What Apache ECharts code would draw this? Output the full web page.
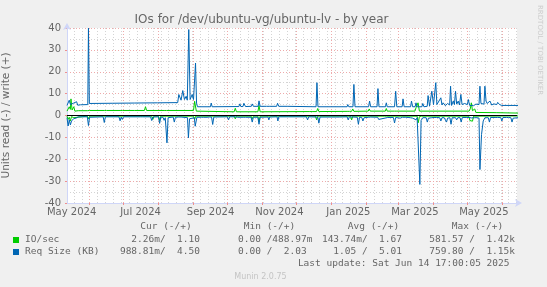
<!DOCTYPE html>
<html><head><meta charset="utf-8">
<script src="https://cdn.jsdelivr.net/npm/echarts@6/dist/echarts.min.js"></script>
<style>html,body{margin:0;padding:0;background:#f0f0f0}#c{width:547px;height:287px}</style>
</head><body><div id="c"></div>
<script>
// ---- time range (rrdtool year graph, ~400 days) ----
const START = Date.UTC(2024, 4, 11, 22);
const END = Date.UTC(2025, 5, 14, 8);
const DAY = 86400000;

// month grid lines (major) and labelled months
const monthStarts = ['2024-06-01','2024-07-01','2024-08-01','2024-09-01','2024-10-01','2024-11-01','2024-12-01',
  '2025-01-01','2025-02-01','2025-03-01','2025-04-01','2025-05-01','2025-06-01'];
const labelMonths = ['2024-05','2024-07','2024-09','2024-11','2025-01','2025-03','2025-05'];
const monthNames = ['Jan','Feb','Mar','Apr','May','Jun','Jul','Aug','Sep','Oct','Nov','Dec'];
const firstWeekLine = '2024-05-18';
const yTicks = [-40, 40, 10];

// ---- series: [day offset from START, value] ----
const ioWrite = [[0,2.0],[1,2.5],[2,4.0],[3,2.8],[3.5,7.6],[4.5,2.5],[5.5,2.2],[6,4.0],[7,2.0],[10,2.2],
  [18,2.2],[19,3.0],[20,2.3],[33,2.3],[34,3.2],[35,2.3],[47,2.3],[48,3.0],[49,2.3],[60,2.3],[61,3.0],[62,2.3],
  [68.5,2.3],[69.5,4.0],[70.5,2.3],[86,2.3],[87,3.0],[88,2.3],[112,2.3],[113,6.5],[114.5,2.0],[115.5,1.7],
  [148,1.7],[149,3.3],[150,1.7],[169,1.7],[170,4.6],[171,1.7],[215,1.8],[216,2.7],[217,1.8],
  [221,1.8],[222,3.2],[223,1.8],[248,1.9],[249,2.7],[250,1.9],[252,1.9],[253,3.0],[254,1.9],
  [266.7,2.0],[267.6,3.0],[268.5,2.0],[281.8,2.0],[282.7,3.2],[283.5,2.0],[290,2.0],[291,2.9],[292,2.0],
  [308,2.0],[309,3.5],[310.8,5.8],[312,2.0],[356,2.0],[357,3.0],[358,5.8],[359,2.2],[361,3.0],[362,1.4],
  [380,1.3],[400,1.1]];
const ioRead = [[0,-0.3],[1,-1.8],[2,-0.8],[3,-2.5],[4,-0.5],[6,-1.0],[7,-0.3],[18,-0.3],[19,-1.5],[20,-0.3],
  [32,-0.3],[33,-0.9],[34,-0.3],[75,-0.3],[76,-1.8],[77,-0.3],[81,-0.3],[82,-2.3],[83,-0.3],
  [112,-0.3],[113,-1.8],[114,-0.3],[148,-0.3],[149,-1.5],[150,-0.3],[163,-0.3],[164,-1.5],[165,-0.3],
  [169,-0.3],[170,-2.9],[171,-0.3],[220,-0.3],[221,-2.0],[222,-0.3],[251,-0.3],[252,-2.0],[253,-0.3],
  [266,-0.3],[267,-1.2],[268,-0.3],[281,-0.3],[282,-1.0],[283,-0.3],[310,-0.3],[311,-3.3],[312,-0.5],
  [313,-1.2],[314,-0.3],[355.7,-0.3],[356.7,-2.3],[358,-1.5],[359,-2.6],[360,-0.3],[400,-0.2]];
const reqWrite = [[0,4.6],[1,5.2],[2,7.0],[3,5.0],[4.5,5.4],[6,5.7],[7,4.9],[8.5,6.3],[9.5,4.7],[12,4.9],[18.4,5.0],[19,40],
  [19.8,5.5],[40,5.6],[60,5.7],[80,5.8],[98,5.9],[99,9.6],[101,7],[102.5,11.4],[104,7.3],[105.5,8.8],[106.5,7],[107.8,39.3],
  [109,7.3],[110.8,9.6],[112,7.3],[113.8,24],[114.7,5.7],[115.5,4.0],[127,4.0],[127.7,5.7],[128.5,4.0],[152.2,4.1],[153,5.3],
  [154,4.1],[155.8,4.1],[156.6,5.6],[158,4.1],[163.2,4.2],[164,5.3],[165,4.2],[169.2,4.2],[170,6.7],[171,4.2],
  [176.7,4.2],[177.5,5.0],[179,4.2],[185.6,4.2],[186.4,5.6],[187.5,4.2],[195,4.2],[196,4.0],
  [220.5,4.0],[221.3,15.0],[222.2,4.0],[248,4.0],[248.6,5.0],[249.5,4.0],[253.2,4.0],[254,14.2],[255,4.0],
  [267,4.0],[267.9,6.6],[268.8,4.0],[274.5,4.0],[275.3,12.3],[276.2,4.0],[282,4.0],[282.7,5.8],[283.5,4.0],[290,4.0],
  [291,11.1],[292,4.0],[296.7,4.0],[297.5,7.6],[298.5,4.0],[304.2,4.0],[305,6.6],[306,4.0],[308.2,4.0],[309,5.8],[310,4.0],
  [314.2,4.0],[315,5.5],[316,4.0],[318.9,4.2],[319.7,9.1],
  [321,4.3],[323,11.1],[324.5,5.0],[326.5,15],[327.5,5.0],[331,8.1],[332,4.8],[333,5.8],[335,4.5],[337,5.5],[338.8,4.8],[339.6,13.4],
  [340.5,4.6],[342,6.6],[343,5.0],[344,11.1],[345,5.2],[346.4,6.6],[347.5,4.8],[348.7,9.6],[349.8,5.0],[352,5.5],[354.5,5.0],[355.3,7.3],
  [356.5,4.6],[358.2,5.0],[360,4.5],[362,5.2],[364.8,5.0],[365.6,13.4],[366.5,5.5],[368,5.0],[369.2,5.2],[370,13.4],[371,6.6],[372,5.5],[374.5,6.6],
  [376,4.8],[378,5.3],[380.5,5.0],[381.3,6.0],[383,5.0],[385,4.6],[400,4.6]];
const reqRead = [[0,-1.0],[1,-4.8],[2,-2.0],[3,-4.3],[4,-2.5],[5,-3.0],[6,-1.4],[8,-1.2],[10,-0.6],
  [18,-0.6],[19,-4.6],[20,-0.8],[32,-0.6],[33,-3.2],[34,-0.6],[46,-0.6],[47,-2.4],[48,-0.7],[49,-1.8],[50,-0.6],
  [65,-0.6],[66,-1.5],[67,-0.6],[74,-0.6],[75,-2.3],[76,-0.7],[81,-0.6],[82,-3.6],[83,-0.8],
  [85,-0.8],[86,-2.2],[87,-1.0],[88,-1.2],[88.5,-12.5],[89.5,-1.0],[94,-0.7],[95,-3.0],[96,-0.8],
  [99,-0.7],[100,-1.5],[101,-0.7],[106.7,-1.0],[107.5,-10.2],[108.5,-1.5],[112.7,-1.0],[113.5,-4.9],[115,-0.8],
  [119,-0.8],[120,-1.2],[121,-0.8],[124,-0.8],[125,-1.2],[126,-0.7],[128,-0.7],[129,-4.1],[130,-0.7],
  [142,-0.6],[143,-2.0],[144,-0.6],[149,-0.6],[150,-1.5],[151,-0.8],[156,-0.8],[157,-1.3],[158,-0.8],
  [163,-0.8],[164,-3.0],[165,-0.8],[169,-0.8],[170,-4.0],[171,-0.8],[178,-0.7],[178.7,-2.0],[179.5,-0.7],
  [186,-0.6],[186.7,-2.5],[187.5,-0.6],[194,-0.6],[195,-1.5],[196,-0.6],[212,-0.6],[213,-2.0],[214,-0.6],
  [222,-0.7],[223,-3.5],[224,-0.7],[239,-0.7],[240,-1.0],[241,-0.7],[248,-0.6],[249,-2.0],[250,-0.6],
  [257,-0.8],[258,-4.0],[259,-0.8],[261,-0.9],[262,-2.5],[263,-1.0],[267,-0.8],[268,-1.5],[269,-0.7],
  [275,-0.8],[276,-1.8],[277,-0.9],[284,-0.9],[285,-1.5],[286,-0.9],[289,-0.9],[290,-3.4],[291,-0.9],
  [295,-1.2],[297,-0.8],[300,-0.8],[302,-0.9],[303,-1.8],[304,-1.0],[306,-1.2],[307,-0.8],
  [309,-2.0],[310,-1.0],[311,-1.5],[312.4,-31.5],[313.5,-2.3],[315,-1.0],[316,-0.8],
  [318,-1.0],[319,-3.0],[320,-1.2],[321,-1.2],[323,-1.0],[324,-1.8],[325,-0.9],[327,-0.9],
  [330,-1.0],[331,-2.5],[332,-1.0],[334,-1.0],[335,-1.2],[336,-3.0],[337,-1.2],[338,-1.2],
  [339,-1.0],[340,-4.0],[341,-1.0],[342,-1.0],[344,-1.0],[345,-2.0],[346,-1.0],[348,-1.0],[349,-3.0],[350,-0.9],[351,-0.9],
  [354,-0.9],[355,-1.5],[356,-0.9],[358,-1.1],[361,-1.0],[362,-1.8],[363,-1.0],[364.8,-1.2],
  [365.6,-24.7],[367,-8.7],[368.5,-2.5],[370,-1.0],[373,-1.0],[374,-3.0],[375,-0.9],[376,-0.9],
  [379,-0.9],[380,-1.5],[381,-0.9],[384,-0.9],[385,-2.5],[386,-0.9],[387,-0.9],
  [389,-0.9],[390,-1.8],[391,-0.9],[393,-1.0],[394,-3.0],[395,-1.2],[396,-1.2],[400,-1.0]];

// legend table
const legendHeaders = ['Cur (-/+)','Min (-/+)','Avg (-/+)','Max (-/+)'];
const legendNames = ['IO/sec','Req Size (KB)'];
const legendRows = [
  ['2.26m/  1.10','0.00 /488.97m','143.74m/  1.67','581.57 /  1.42k'],
  ['988.81m/  4.50','0.00 /  2.03 ','1.05 /  5.01 ','759.80 /  1.15k']
];
const titleText = 'IOs for /dev/ubuntu-vg/ubuntu-lv - by year';
const lastUpdate = 'Last update: Sat Jun 14 17:00:05 2025';

const GREEN = '#00cc00', BLUE = '#0066b3';
const toTs = s => { const p = s.split('-').map(Number); return Date.UTC(p[0], p[1]-1, p[2] || 1); };
const monthTicks = monthStarts.map(toTs);
const labelTicks = labelMonths.map(m => toTs(m) + 15 * DAY);
const weekTicks = [];
for (let t = toTs(firstWeekLine); t < END; t += 7 * DAY) weekTicks.push(t);
const conv = arr => arr.map(p => [START + p[0] * DAY, p[1]]);

const chart = echarts.init(document.getElementById('c'), null, {renderer: 'canvas'});
const FONT = 'DejaVu Sans', MONO = 'DejaVu Sans Mono', TXT = '#666666', AXIS = '#cfd6f8';
const lineSeries = (name, data, color, z) => ({
  type: 'line', name, data: conv(data), xAxisIndex: 1, showSymbol: false, symbol: 'none',
  lineStyle: {color, width: 1}, itemStyle: {color}, z, animation: false, clip: true
});
const legendGraphics = [];
const headerCenters = [166, 269.5, 373.5, 477.5];
legendHeaders.forEach((h, i) => legendGraphics.push({type: 'text', x: headerCenters[i], y: 227,
  style: {text: h, font: '9.5px ' + MONO, fill: TXT, textAlign: 'center', textVerticalAlign: 'middle'}}));
const colEnds = [205.7, 312.4, 407.7, 515];
[GREEN, BLUE].forEach((c, r) => {
  const y = 240 + r * 12;
  legendGraphics.push({type: 'rect', shape: {x: 13, y: y - 3, width: 6, height: 6}, style: {fill: c}});
  legendGraphics.push({type: 'text', x: 25, y, style: {text: legendNames[r], font: '9.5px ' + MONO, fill: TXT, textVerticalAlign: 'middle'}});
  legendRows[r].forEach((v, i) => {
    const s = /[mk ]$/.test(v) ? v : v + ' ';
    legendGraphics.push({type: 'text', x: colEnds[i], y, style: {text: s, font: '9.5px ' + MONO, fill: TXT, textAlign: 'right', textVerticalAlign: 'middle'}});
  });
});
legendGraphics.push({type: 'text', x: 509.5, y: 264, style: {text: lastUpdate, font: '9.5px ' + MONO, fill: TXT, textAlign: 'right', textVerticalAlign: 'middle'}});
legendGraphics.push({type: 'text', x: 260.5, y: 276.5, style: {text: 'Munin 2.0.75', font: '8px ' + FONT, fill: '#c4c4c4', textAlign: 'center', textVerticalAlign: 'middle'}});
legendGraphics.push({type: 'text', x: 261.5, y: 19.5, style: {text: titleText, font: '12px ' + FONT, fill: TXT, textAlign: 'center', textVerticalAlign: 'middle'}});
legendGraphics.push({type: 'text', x: 540, y: 5, rotation: -Math.PI / 2,
  style: {text: 'RRDTOOL / TOBI OETIKER', font: '7px ' + FONT, fill: '#cccccc', textAlign: 'left', textVerticalAlign: 'middle'}});

chart.setOption({
  animation: false,
  backgroundColor: '#f0f0f0',
  grid: {left: 67, top: 28, width: 450, height: 175, show: true, backgroundColor: '#ffffff', borderWidth: 0,
    containLabel: false, outerBoundsMode: 'none'},
  xAxis: [
    {type: 'value', position: 'top', min: START, max: END,
      axisLine: {show: false}, axisLabel: {show: false},
      axisTick: {show: false, customValues: weekTicks},
      splitLine: {show: true, lineStyle: {color: '#d4d4d4', width: 1, type: [1, 2]}}},
    {type: 'value', position: 'bottom', min: START, max: END,
      axisLine: {show: true, onZero: false, lineStyle: {color: AXIS, width: 1}, symbol: ['none', 'arrow'], symbolSize: [6, 7], symbolOffset: [0, 5]},
      axisTick: {show: true, customValues: monthTicks, length: 2, inside: false, lineStyle: {color: '#ee9090'}},
      splitLine: {show: true, lineStyle: {color: '#eeaaaa', width: 1, type: [1, 2]}},
      axisLabel: {customValues: labelTicks, color: TXT, fontSize: 10, fontFamily: FONT, margin: 4,
        formatter: v => { const d = new Date(v); return monthNames[d.getUTCMonth()] + ' ' + d.getUTCFullYear(); }}}
  ],
  yAxis: {type: 'value', min: yTicks[0], max: yTicks[1], interval: yTicks[2],
    axisLine: {show: true, onZero: false, lineStyle: {color: AXIS, width: 1}, symbol: ['none', 'arrow'], symbolSize: [6, 7], symbolOffset: [0, 5]},
    axisTick: {show: true, length: 2, lineStyle: {color: '#ee9090'}},
    splitLine: {show: true, lineStyle: {color: '#eeaaaa', width: 1, type: [1, 2]}},
    minorTick: {show: false, splitNumber: 2},
    minorSplitLine: {show: true, lineStyle: {color: '#d4d4d4', width: 1, type: [1, 2]}},
    axisLabel: {color: TXT, fontSize: 10, fontFamily: FONT, margin: 6},
    name: 'Units read (-) / write (+)', nameLocation: 'middle', nameGap: 55,
    nameTextStyle: {color: TXT, fontSize: 10.5, fontFamily: FONT}},
  series: [
    lineSeries('IO/sec read', ioRead, GREEN, 2),
    lineSeries('IO/sec write', ioWrite, GREEN, 2),
    lineSeries('Req Size read', reqRead, BLUE, 3),
    Object.assign(lineSeries('Req Size write', reqWrite, BLUE, 3), {
      markLine: {silent: true, symbol: 'none', label: {show: false}, lineStyle: {color: '#000', width: 1, type: 'solid'},
        data: [{yAxis: 0}], animation: false}})
  ],
  graphic: legendGraphics
});
</script></body></html>
